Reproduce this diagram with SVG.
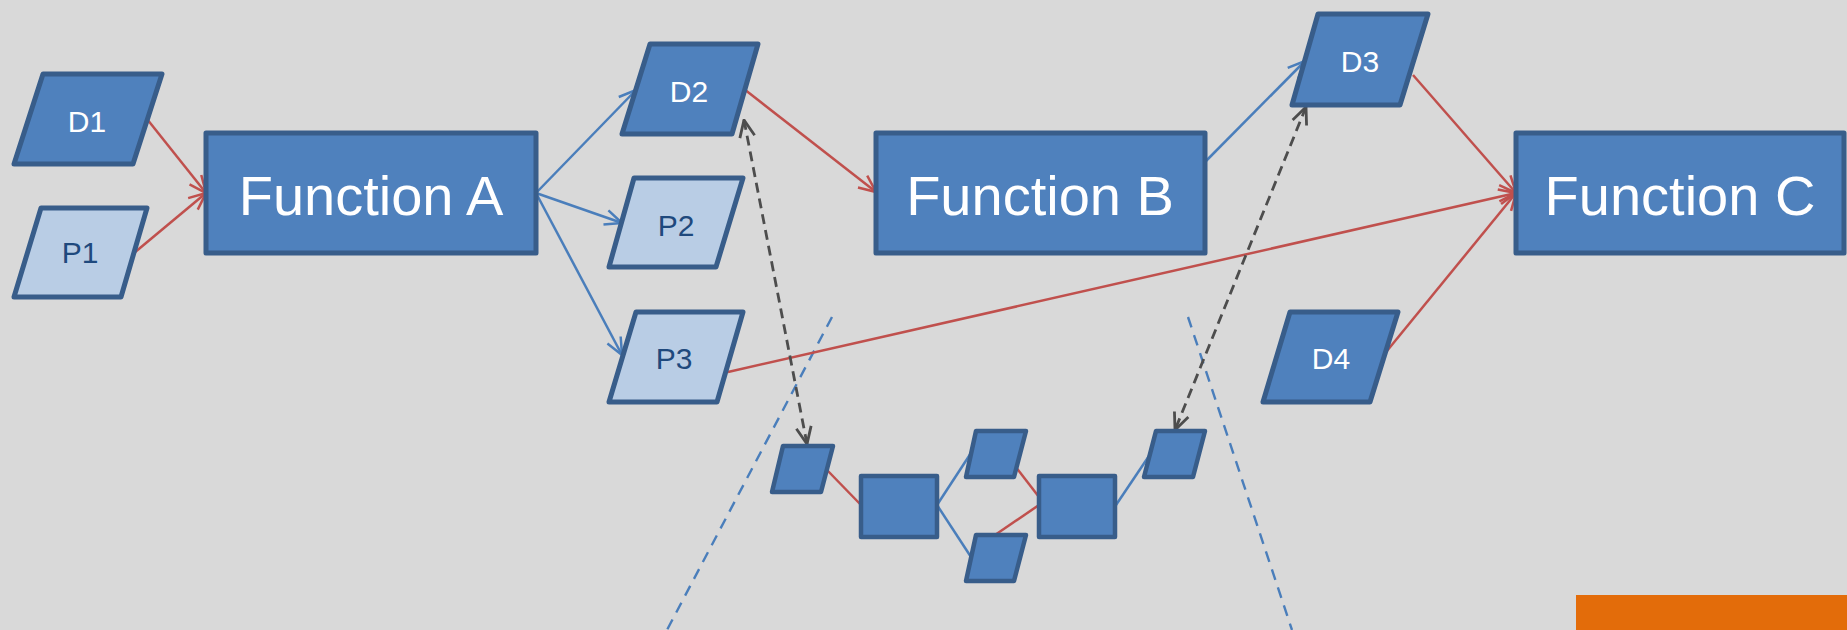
<svg xmlns="http://www.w3.org/2000/svg" width="1847" height="630" viewBox="0 0 1847 630">
<style>
.node{fill:#4f81bd;stroke:#385d8a;stroke-width:5;stroke-linejoin:round}
.light{fill:#b9cde5;stroke:#385d8a;stroke-width:5;stroke-linejoin:round}
.small{fill:#4f81bd;stroke:#385d8a;stroke-width:4.5;stroke-linejoin:round}
.big{font-family:"Liberation Sans",Arial,sans-serif;font-size:56px;fill:#ffffff;text-anchor:middle}
.lbl{font-family:"Liberation Sans",Arial,sans-serif;font-size:30px;fill:#ffffff;text-anchor:middle}
.lbld{font-family:"Liberation Sans",Arial,sans-serif;font-size:30px;fill:#1f497d;text-anchor:middle}
.red{stroke:#c0504d;stroke-width:2.5;fill:none}
.blue{stroke:#4a7ebb;stroke-width:2.5;fill:none}
.gray{stroke:#4d4d4d;stroke-width:2.8;fill:none;stroke-dasharray:10 6}
.guide{stroke:#4a7ebb;stroke-width:2.4;fill:none;stroke-dasharray:11 8}
</style>
<defs>
<marker id="ar" markerUnits="userSpaceOnUse" markerWidth="20" markerHeight="20" viewBox="0 0 20 20" refX="19" refY="10" orient="auto">
<path d="M2,2.5 L19,10 L2,17.5" fill="none" stroke="#c0504d" stroke-width="2.5"/>
</marker>
<marker id="ab" markerUnits="userSpaceOnUse" markerWidth="20" markerHeight="20" viewBox="0 0 20 20" refX="19" refY="10" orient="auto">
<path d="M2,2.5 L19,10 L2,17.5" fill="none" stroke="#4a7ebb" stroke-width="2.5"/>
</marker>
<marker id="ag" markerUnits="userSpaceOnUse" markerWidth="20" markerHeight="20" viewBox="0 0 20 20" refX="19" refY="10" orient="auto-start-reverse">
<path d="M2,2.5 L19,10 L2,17.5" fill="none" stroke="#4d4d4d" stroke-width="2.8"/>
</marker>
</defs>
<rect x="0" y="0" width="1847" height="630" fill="#d9d9d9"/>
<rect x="1576" y="595" width="271" height="35" fill="#e36c0a"/>

<g id="guides">
<line class="guide" x1="832" y1="317" x2="667" y2="630"/>
<line class="guide" x1="1188" y1="317" x2="1292" y2="630"/>
</g>

<g id="connectors">
<line class="red" x1="147" y1="119" x2="206" y2="193" marker-end="url(#ar)"/>
<line class="red" x1="134" y1="253" x2="206" y2="193" marker-end="url(#ar)"/>
<line class="blue" x1="536" y1="193" x2="636" y2="90" marker-end="url(#ab)"/>
<line class="blue" x1="536" y1="193" x2="622" y2="223" marker-end="url(#ab)"/>
<line class="blue" x1="536" y1="193" x2="622" y2="355" marker-end="url(#ab)"/>
<line class="red" x1="744" y1="89" x2="876" y2="192" marker-end="url(#ar)"/>
<line class="blue" x1="1205" y1="162" x2="1305" y2="61" marker-end="url(#ab)"/>
<line class="red" x1="1413" y1="75" x2="1516" y2="193" marker-end="url(#ar)"/>
<line class="red" x1="728" y1="372" x2="1516" y2="193" marker-end="url(#ar)"/>
<line class="red" x1="1382" y1="357" x2="1516" y2="193" marker-end="url(#ar)"/>
<line class="gray" x1="744" y1="120" x2="807" y2="444" marker-start="url(#ag)" marker-end="url(#ag)"/>
<line class="gray" x1="1306" y1="107" x2="1175" y2="430" marker-start="url(#ag)" marker-end="url(#ag)"/>
<line class="red" x1="827" y1="470" x2="861" y2="505"/>
<line class="blue" x1="937" y1="505" x2="971" y2="453"/>
<line class="blue" x1="937" y1="505" x2="971" y2="557"/>
<line class="red" x1="1012" y1="462" x2="1039" y2="497"/>
<line class="red" x1="995" y1="535" x2="1039" y2="505"/>
<line class="blue" x1="1116" y1="505" x2="1151" y2="453"/>
</g>

<g id="D1"><polygon class="node" points="43,74 162,74 133,164 14,164"/><text class="lbl" x="87" y="132">D1</text></g>
<g id="P1"><polygon class="light" points="41,208 147,208 121,297 14,297"/><text class="lbld" x="80" y="263">P1</text></g>
<g id="FunctionA"><rect class="node" x="206" y="133" width="330" height="120"/><text class="big" x="371" y="215">Function A</text></g>
<g id="D2"><polygon class="node" points="650,44 758,44 732,134 622,134"/><text class="lbl" x="689" y="102">D2</text></g>
<g id="P2"><polygon class="light" points="634,178 743,178 716,267 609,267"/><text class="lbld" x="676" y="236">P2</text></g>
<g id="P3"><polygon class="light" points="636,312 743,312 717,402 609,402"/><text class="lbld" x="674" y="369">P3</text></g>
<g id="FunctionB"><rect class="node" x="876" y="133" width="329" height="120"/><text class="big" x="1040" y="215">Function B</text></g>
<g id="D3"><polygon class="node" points="1318,14 1428,14 1400,105 1292,105"/><text class="lbl" x="1360" y="72">D3</text></g>
<g id="FunctionC"><rect class="node" x="1516" y="133" width="328" height="120"/><text class="big" x="1680" y="215">Function C</text></g>
<g id="D4"><polygon class="node" points="1290,312 1398,312 1370,402 1263,402"/><text class="lbl" x="1331" y="369">D4</text></g>

<g id="s1"><polygon class="small" points="783,446 833,446 821,492 772,492"/></g>
<g id="R1"><rect class="small" x="861" y="476" width="76" height="61"/></g>
<g id="s2"><polygon class="small" points="976,431 1026,431 1014,477 966,477"/></g>
<g id="s3"><polygon class="small" points="976,535 1026,535 1014,581 966,581"/></g>
<g id="R2"><rect class="small" x="1039" y="476" width="76" height="61"/></g>
<g id="s4"><polygon class="small" points="1156,431 1205,431 1193,477 1144,477"/></g>
</svg>
